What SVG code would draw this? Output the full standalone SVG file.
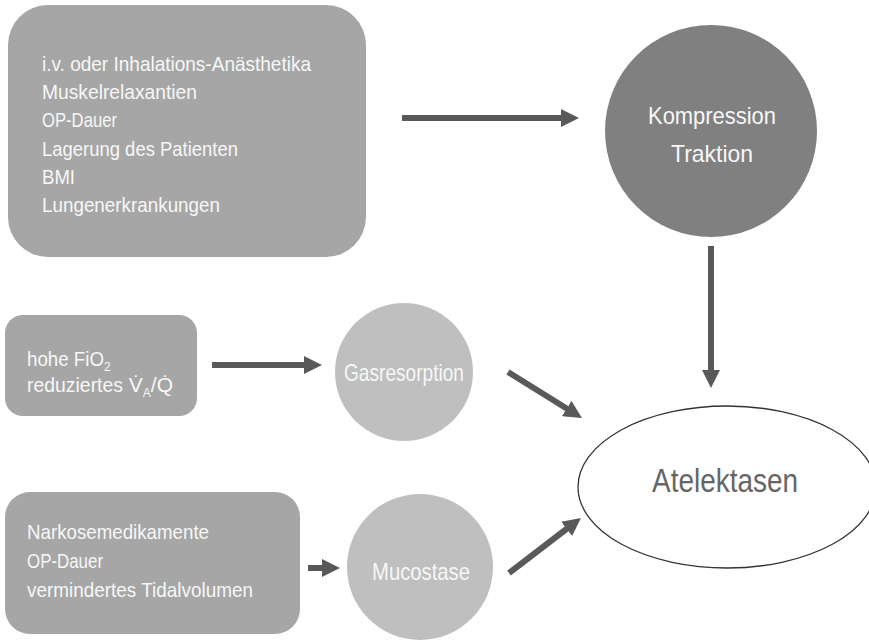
<svg xmlns="http://www.w3.org/2000/svg" width="869" height="642" viewBox="0 0 869 642">
<defs>
<style>
.box{fill:#a6a6a6}
.dark{fill:#808080}
.light{fill:#bfbfbf}
.t{font-family:"Liberation Sans",Arial,sans-serif;fill:#f7f7f7}
.bt{font-size:21px}
.ct{font-size:24px;text-anchor:middle}
.conn line{stroke:#595959;stroke-width:6;marker-end:url(#ah)}
.at{font-family:"Liberation Sans",Arial,sans-serif;font-size:33px;fill:#666666;text-anchor:middle}
</style>
<marker id="ah" markerUnits="userSpaceOnUse" markerWidth="18" markerHeight="18" refX="8" refY="9" orient="auto">
<path d="M0,0 L18,9 L0,18 z" fill="#595959"/>
</marker>
</defs>
<rect width="869" height="642" fill="#ffffff"/>

<g id="factors-top">
<rect class="box" x="8" y="5" width="358" height="252" rx="40" ry="40"/>
<text class="t bt" x="42" y="71" textLength="269" lengthAdjust="spacingAndGlyphs">i.v. oder Inhalations-Anästhetika</text>
<text class="t bt" x="42" y="99" textLength="155" lengthAdjust="spacingAndGlyphs">Muskelrelaxantien</text>
<text class="t bt" x="42" y="127" textLength="75" lengthAdjust="spacingAndGlyphs">OP-Dauer</text>
<text class="t bt" x="42" y="156" textLength="196" lengthAdjust="spacingAndGlyphs">Lagerung des Patienten</text>
<text class="t bt" x="42" y="184" textLength="33" lengthAdjust="spacingAndGlyphs">BMI</text>
<text class="t bt" x="42" y="212" textLength="178" lengthAdjust="spacingAndGlyphs">Lungenerkrankungen</text>
</g>

<g id="kompression">
<circle class="dark" cx="711" cy="131" r="106"/>
<text class="t ct" x="712" y="124" textLength="128" lengthAdjust="spacingAndGlyphs">Kompression</text>
<text class="t ct" x="712" y="162" textLength="82" lengthAdjust="spacingAndGlyphs">Traktion</text>
</g>

<g id="factors-mid">
<rect class="box" x="5" y="315" width="192" height="101" rx="18" ry="18"/>
<text class="t" x="27" y="366" font-size="21"><tspan textLength="77" lengthAdjust="spacingAndGlyphs">hohe FiO</tspan><tspan dy="5" font-size="12">2</tspan></text>
<text class="t" x="27" y="392" font-size="21"><tspan textLength="96" lengthAdjust="spacingAndGlyphs">reduziertes</tspan> V̇<tspan dy="5" font-size="12">A</tspan><tspan dy="-5">/Q̇</tspan></text>
</g>

<g id="gasresorption">
<circle class="light" cx="404" cy="372" r="69"/>
<text class="t ct" x="404" y="381" textLength="120" lengthAdjust="spacingAndGlyphs">Gasresorption</text>
</g>

<g id="factors-bottom">
<rect class="box" x="5" y="492" width="295" height="142" rx="25" ry="25"/>
<text class="t bt" x="27" y="539" textLength="182" lengthAdjust="spacingAndGlyphs">Narkosemedikamente</text>
<text class="t bt" x="27" y="568" textLength="76" lengthAdjust="spacingAndGlyphs">OP-Dauer</text>
<text class="t bt" x="27" y="597" textLength="226" lengthAdjust="spacingAndGlyphs">vermindertes Tidalvolumen</text>
</g>

<g id="mucostase">
<circle class="light" cx="420" cy="567" r="73"/>
<text class="t ct" x="421" y="580" textLength="98" lengthAdjust="spacingAndGlyphs">Mucostase</text>
</g>

<g id="atelektasen">
<ellipse cx="727" cy="487" rx="149" ry="81" fill="#ffffff" stroke="#333333" stroke-width="1.3"/>
<text class="at" x="725" y="492" textLength="146" lengthAdjust="spacingAndGlyphs">Atelektasen</text>
</g>

<g id="connectors" class="conn">
<line x1="402" y1="118" x2="569" y2="118"/>
<line x1="711" y1="246" x2="711" y2="378"/>
<line x1="212" y1="365" x2="312" y2="365"/>
<line x1="508" y1="372" x2="573.5" y2="412.7"/>
<line x1="308" y1="568" x2="330" y2="568"/>
<line x1="509" y1="573" x2="573" y2="524"/>
</g>
</svg>
